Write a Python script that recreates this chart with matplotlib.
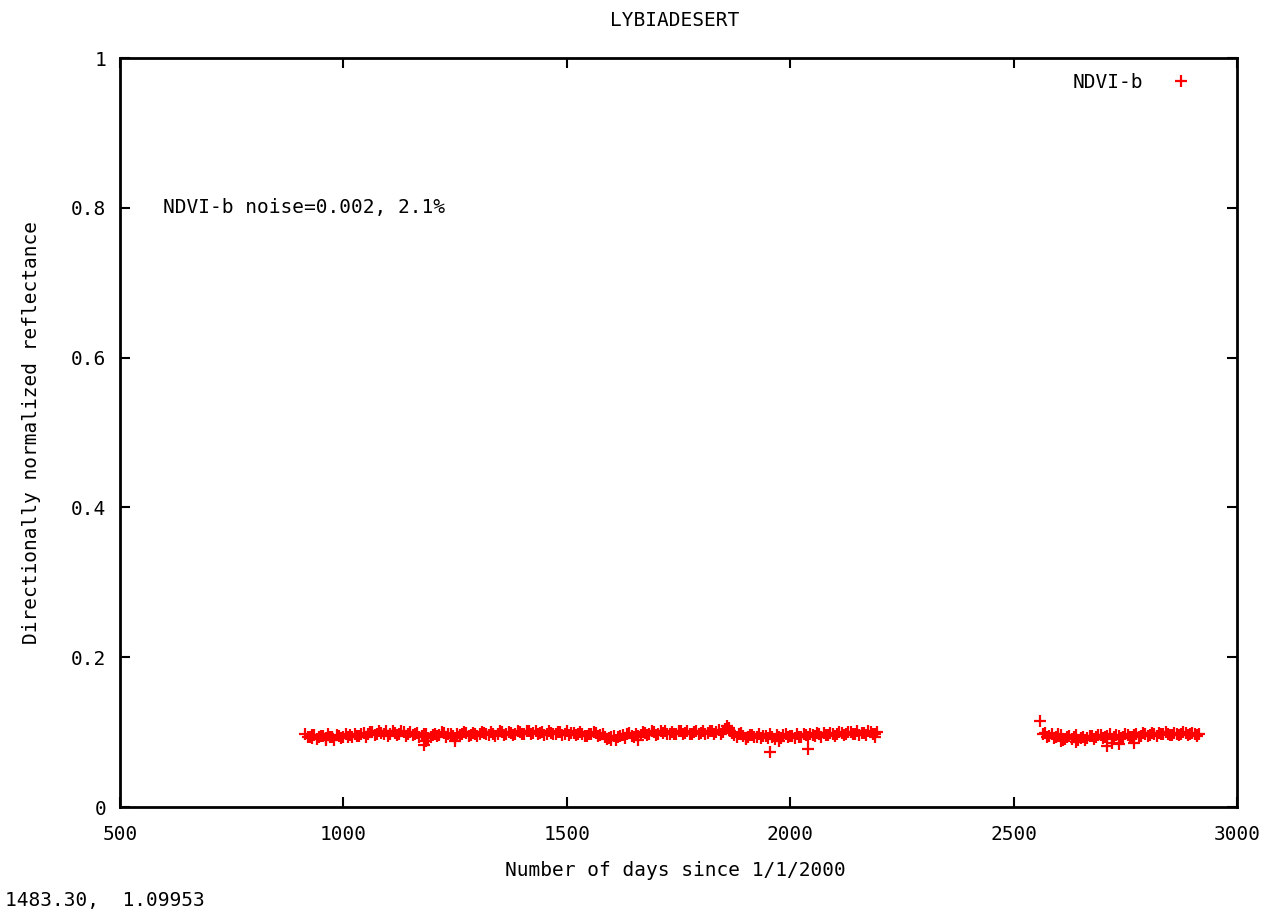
import matplotlib
matplotlib.use("Agg")
import matplotlib.pyplot as plt

# NDVI-b, first period (days since 1/1/2000)
days_a = [
    915, 925, 935, 945, 955, 965, 975, 985, 995, 1005,
    1015, 1025, 1035, 1045, 1055, 1065, 1075, 1085, 1095, 1105,
    1115, 1125, 1135, 1145, 1155, 1165, 1175, 1185, 1195, 1205,
    1215, 1225, 1235, 1245, 1255, 1265, 1275, 1285, 1295, 1305,
    1315, 1325, 1335, 1345, 1355, 1365, 1375, 1385, 1395, 1405,
    1415, 1425, 1435, 1445, 1455, 1465, 1475, 1485, 1495, 1505,
    1515, 1525, 1535, 1545, 1555, 1565, 1575, 1585, 1595, 1605,
    1615, 1625, 1635, 1645, 1655, 1665, 1675, 1685, 1695, 1705,
    1715, 1725, 1735, 1745, 1755, 1765, 1775, 1785, 1795, 1805,
    1815, 1825, 1835, 1845, 1855, 1865, 1875, 1885, 1895, 1905,
    1915, 1925, 1935, 1945, 1955, 1965, 1975, 1985, 1995, 2005,
    2015, 2025, 2035, 2045, 2055, 2065, 2075, 2085, 2095, 2105,
    2115, 2125, 2135, 2145, 2155, 2165, 2175, 2185, 2195,
    920, 930, 940, 950, 960, 970, 980, 990, 1000, 1010,
    1020, 1030, 1040, 1050, 1060, 1070, 1080, 1090, 1100, 1110,
    1120, 1130, 1140, 1150, 1160, 1170, 1180, 1190, 1200, 1210,
    1220, 1230, 1240, 1250, 1260, 1270, 1280, 1290, 1300, 1310,
    1320, 1330, 1340, 1350, 1360, 1370, 1380, 1390, 1400, 1410,
    1420, 1430, 1440, 1450, 1460, 1470, 1480, 1490, 1500, 1510,
    1520, 1530, 1540, 1550, 1560, 1570, 1580, 1590, 1600, 1610,
    1620, 1630, 1640, 1650, 1660, 1670, 1680, 1690, 1700, 1710,
    1720, 1730, 1740, 1750, 1760, 1770, 1780, 1790, 1800, 1810,
    1820, 1830, 1840, 1850, 1860, 1870, 1880, 1890, 1900, 1910,
    1920, 1930, 1940, 1950, 1960, 1970, 1980, 1990, 2000, 2010,
    2020, 2030, 2040, 2050, 2060, 2070, 2080, 2090, 2100, 2110,
    2120, 2130, 2140, 2150, 2160, 2170, 2180, 2190,
    930, 960, 1180, 1185, 1250, 1600, 1660, 1858, 1862, 1900,
    1955, 1975, 2040, 2190,
]
ndvi_a = [
    0.097, 0.094, 0.096, 0.093, 0.095, 0.097, 0.094, 0.096, 0.092, 0.097,
    0.096, 0.098, 0.095, 0.099, 0.097, 0.100, 0.098, 0.099, 0.101, 0.098,
    0.099, 0.097, 0.100, 0.098, 0.096, 0.099, 0.095, 0.097, 0.094, 0.098,
    0.096, 0.099, 0.097, 0.095, 0.098, 0.097, 0.099, 0.096, 0.098, 0.097,
    0.099, 0.096, 0.098, 0.097, 0.100, 0.098, 0.099, 0.097, 0.100, 0.098,
    0.101, 0.099, 0.097, 0.100, 0.098, 0.099, 0.097, 0.100, 0.098, 0.096,
    0.099, 0.097, 0.098, 0.095, 0.097, 0.099, 0.096, 0.094, 0.092, 0.095,
    0.093, 0.096, 0.097, 0.095, 0.098, 0.096, 0.099, 0.097, 0.100, 0.098,
    0.099, 0.097, 0.100, 0.098, 0.101, 0.099, 0.098, 0.100, 0.097, 0.101,
    0.099, 0.102, 0.100, 0.098, 0.104, 0.101, 0.096, 0.097, 0.095, 0.093,
    0.096, 0.094, 0.092, 0.095, 0.097, 0.091, 0.094, 0.096, 0.093, 0.095,
    0.097, 0.094, 0.096, 0.098, 0.095, 0.097, 0.099, 0.096, 0.098, 0.097,
    0.099, 0.097, 0.100, 0.098, 0.096, 0.099, 0.101, 0.098, 0.100,
    0.093, 0.096, 0.091, 0.095, 0.092, 0.094, 0.090, 0.095, 0.093, 0.094,
    0.094, 0.095, 0.097, 0.094, 0.100, 0.096, 0.102, 0.097, 0.095, 0.101,
    0.096, 0.101, 0.095, 0.100, 0.097, 0.094, 0.098, 0.092, 0.096, 0.095,
    0.100, 0.094, 0.098, 0.092, 0.096, 0.100, 0.095, 0.099, 0.095, 0.100,
    0.097, 0.100, 0.095, 0.101, 0.096, 0.100, 0.096, 0.101, 0.097, 0.102,
    0.097, 0.101, 0.099, 0.096, 0.101, 0.097, 0.100, 0.096, 0.101, 0.099,
    0.096, 0.100, 0.095, 0.098, 0.100, 0.095, 0.098, 0.091, 0.094, 0.090,
    0.095, 0.092, 0.099, 0.094, 0.095, 0.100, 0.096, 0.101, 0.096, 0.101,
    0.101, 0.098, 0.097, 0.102, 0.098, 0.101, 0.097, 0.102, 0.099, 0.098,
    0.101, 0.098, 0.103, 0.100, 0.106, 0.099, 0.094, 0.099, 0.092, 0.096,
    0.093, 0.097, 0.095, 0.092, 0.094, 0.096, 0.092, 0.097, 0.095, 0.092,
    0.094, 0.098, 0.093, 0.096, 0.099, 0.094, 0.096, 0.099, 0.095, 0.100,
    0.096, 0.100, 0.097, 0.101, 0.099, 0.096, 0.100, 0.097,
    0.092, 0.090, 0.083, 0.088, 0.088, 0.090, 0.089, 0.108, 0.105, 0.091,
    0.074, 0.088, 0.078, 0.094,
]

# NDVI-b, second period
days_b = [
    2565, 2575, 2585, 2595, 2605, 2615, 2625, 2635, 2645, 2655,
    2665, 2675, 2685, 2695, 2705, 2715, 2725, 2735, 2745, 2755,
    2765, 2775, 2785, 2795, 2805, 2815, 2825, 2835, 2845, 2855,
    2865, 2875, 2885, 2895, 2905, 2915,
    2570, 2580, 2590, 2600, 2610, 2620, 2630, 2640, 2650, 2660,
    2670, 2680, 2690, 2700, 2710, 2720, 2730, 2740, 2750, 2760,
    2770, 2780, 2790, 2800, 2810, 2820, 2830, 2840, 2850, 2860,
    2870, 2880, 2890, 2900, 2910,
    2560, 2605, 2640, 2710, 2720, 2735, 2770, 2910,
]
ndvi_b = [
    0.097, 0.094, 0.098, 0.093, 0.096, 0.091, 0.095, 0.093, 0.090, 0.094,
    0.092, 0.095, 0.093, 0.096, 0.094, 0.097, 0.093, 0.095, 0.094, 0.096,
    0.093, 0.097, 0.095, 0.098, 0.096, 0.097, 0.099, 0.097, 0.098, 0.096,
    0.098, 0.097, 0.099, 0.097, 0.098, 0.097,
    0.099, 0.095, 0.092, 0.097, 0.090, 0.094, 0.091, 0.096, 0.092, 0.089,
    0.095, 0.091, 0.096, 0.092, 0.095, 0.091, 0.096, 0.092, 0.097, 0.094,
    0.096, 0.094, 0.099, 0.095, 0.099, 0.095, 0.097, 0.100, 0.096, 0.099,
    0.096, 0.100, 0.096, 0.099, 0.096,
    0.115, 0.088, 0.087, 0.082, 0.086, 0.084, 0.085, 0.095,
]

xticks = [500, 1000, 1500, 2000, 2500, 3000]
yticks = [0, 0.2, 0.4, 0.6, 0.8, 1]

plt.rcParams['font.family'] = ['DejaVu Sans Mono']
fs = 14

fig = plt.figure(figsize=(12.72, 9.13), dpi=100)
ax = fig.add_axes([120/1272, 1 - 807/913, (1237-120)/1272, (807-58)/913])

ax.plot(days_a + days_b, ndvi_a + ndvi_b, linestyle='none', marker='+',
        color='#ff0000', markersize=8, markeredgewidth=1.6, label='NDVI-b')

ax.set_xlim(500, 3000)
ax.set_ylim(0, 1)
ax.set_xticks(xticks)
ax.set_yticks(yticks)
ax.set_xticklabels([str(t) for t in xticks])
ax.set_yticklabels(['0', '0.2', '0.4', '0.6', '0.8', '1'])
ax.tick_params(direction='in', length=7, width=1.5, labelsize=fs,
               top=True, right=True)
ax.tick_params(axis='x', pad=13)
ax.tick_params(axis='y', pad=10)
for s in ax.spines.values():
    s.set_linewidth(2)

ax.text(596, 0.8, 'NDVI-b noise=0.002, 2.1%', fontsize=fs, va='center')

leg = ax.legend(loc='upper right', markerfirst=False, frameon=False,
                fontsize=fs, handlelength=2.5, handletextpad=0.7,
                bbox_to_anchor=(0.987, 1.003))

fig.text(675/1272, 1 - 20/913, 'LYBIADESERT', ha='center', va='center', fontsize=fs)
fig.text(675/1272, 1 - 870/913, 'Number of days since 1/1/2000', ha='center', va='center', fontsize=fs)
fig.text(32/1272, 1 - 432/913, 'Directionally normalized reflectance', ha='center', va='center',
         rotation=90, fontsize=fs)
fig.text(5/1272, 1 - 900/913, '1483.30,  1.09953', ha='left', va='center', fontsize=fs)

fig.savefig('out.png', dpi=100)
